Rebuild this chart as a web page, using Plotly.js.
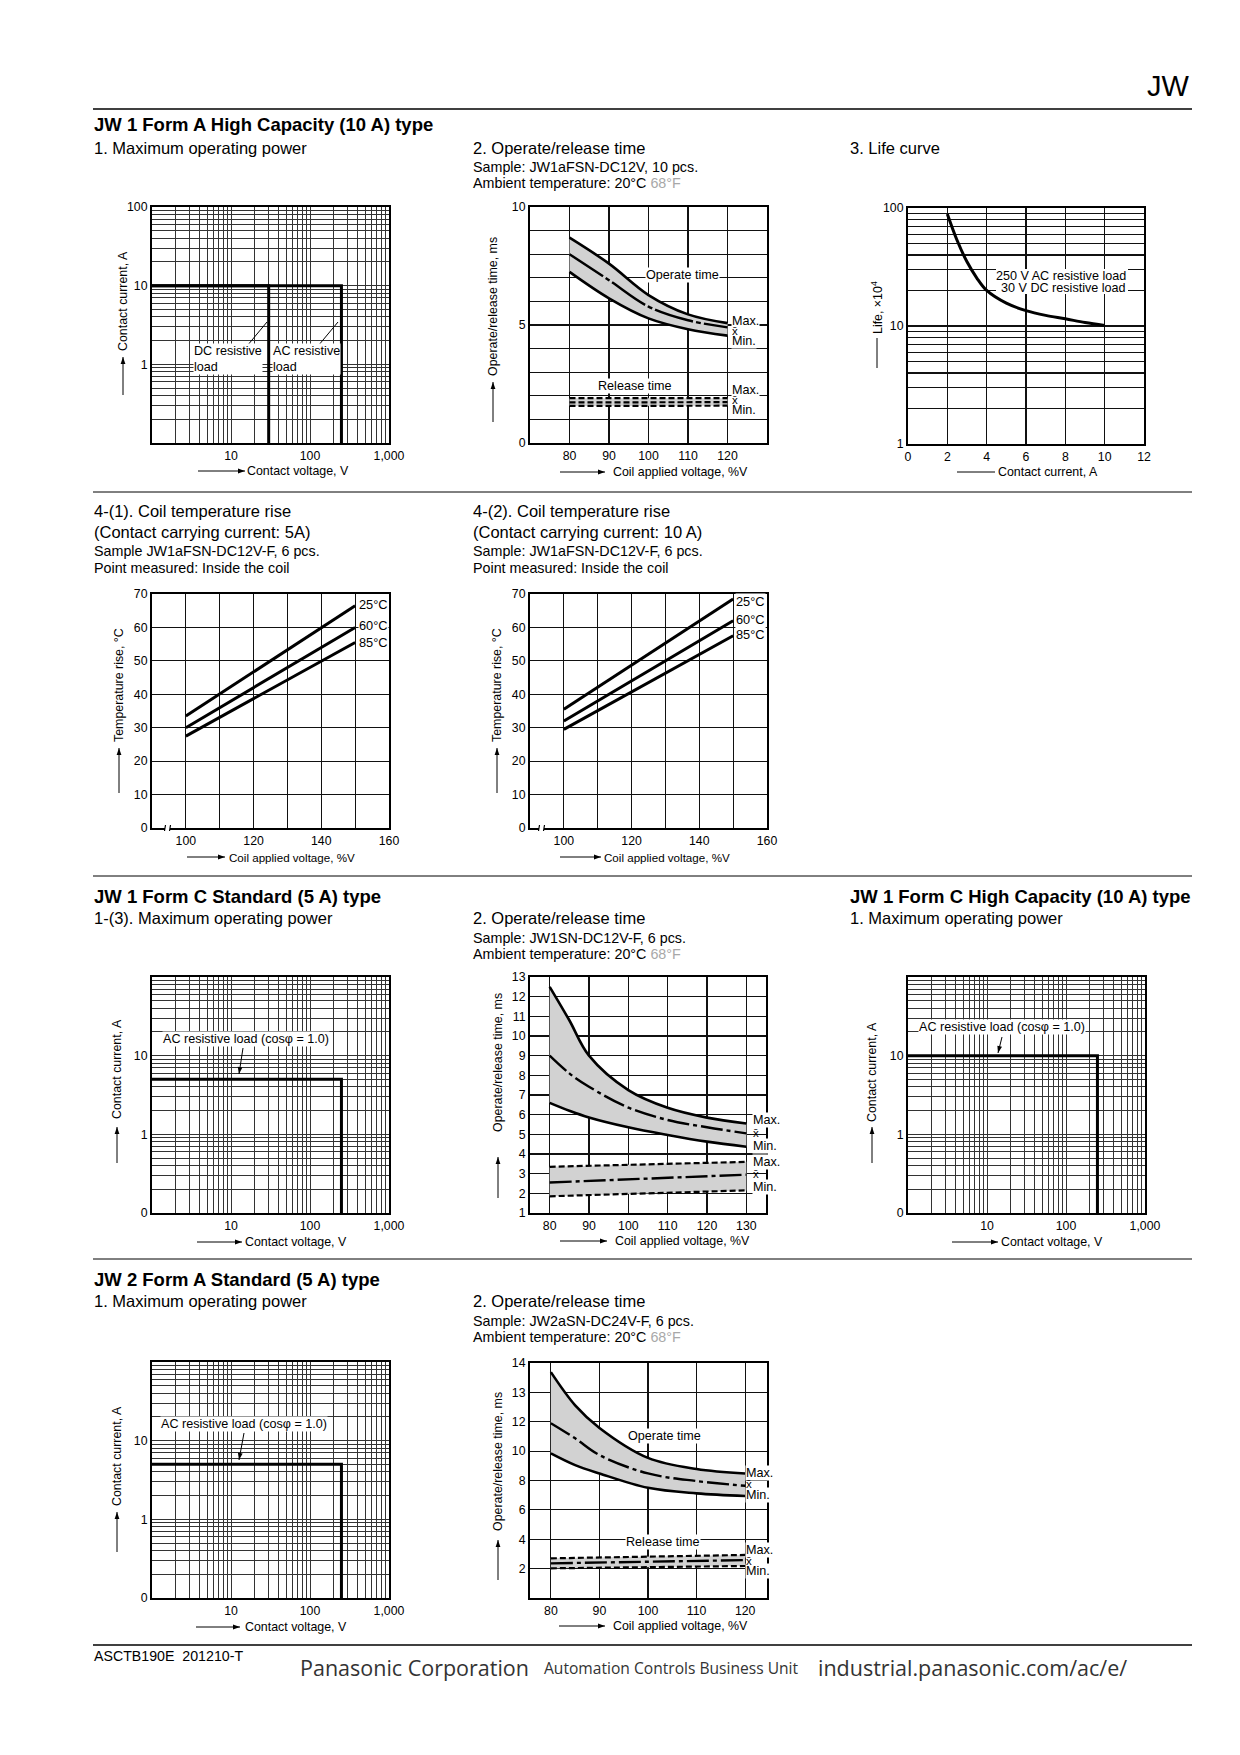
<!DOCTYPE html>
<html><head><meta charset="utf-8">
<script src="https://cdn.plot.ly/plotly-3.0.1.min.js"></script>
<style>html,body{margin:0;padding:0;background:#fff}</style>
</head><body><div id="page" style="width:1240px;height:1755px"></div>
<script>
// ===== DATA =====
// JW 1 Form A High Capacity (10 A): 1. Maximum operating power
const a1DcVoltage = [1, 30, 30];
const a1DcCurrent = [10, 10, 0.1];
const a1AcVoltage = [1, 250, 250];
const a1AcCurrent = [10, 10, 0.1];
// 2. Operate/release time (JW1aFSN-DC12V)
const a2Voltage = [80, 90, 100, 110, 120];
const a2OperateMax = [8.7, 7.6, 6.27, 5.45, 5.08];
const a2OperateMean = [8.0, 6.9, 5.78, 5.2, 4.9];
const a2OperateMin = [7.25, 6.13, 5.28, 4.82, 4.55];
const a2RelVoltage = [80, 120];
const a2ReleaseMax = [1.9, 1.9];
const a2ReleaseMean = [1.72, 1.73];
const a2ReleaseMin = [1.57, 1.58];
// 3. Life curve
const a3Current = [2, 2.5, 3, 3.5, 4, 5, 6, 7, 8, 9, 10];
const a3Life = [89, 53, 35, 25.5, 20, 15.6, 13.5, 12.3, 11.5, 10.7, 10.1];
// 4-(1) Coil temperature rise, 5 A
const tempVoltage = [100, 150];
const t1Rise25 = [33.5, 66.5];
const t1Rise60 = [30, 60];
const t1Rise85 = [27.5, 55.5];
// 4-(2) Coil temperature rise, 10 A
const t2Rise25 = [35.5, 68.5];
const t2Rise60 = [32, 62];
const t2Rise85 = [29.5, 57.5];
// JW 1 Form C Standard (5 A): max operating power
const c1Voltage = [1, 250, 250];
const c1Current = [5, 5, 0.1];
// JW 1 Form C Standard: operate/release time (JW1SN-DC12V-F)
const c2Voltage = [80, 85, 90, 100, 110, 120, 130];
const c2OperateMax = [12.5, 10.8, 9.0, 7.25, 6.35, 5.85, 5.55];
const c2OperateMean = [9.0, 8.1, 7.42, 6.36, 5.73, 5.36, 5.05];
const c2OperateMin = [6.6, 6.2, 5.86, 5.36, 4.97, 4.63, 4.37];
const c2RelVoltage = [80, 130];
const c2ReleaseMax = [3.35, 3.6];
const c2ReleaseMean = [2.55, 2.95];
const c2ReleaseMin = [1.85, 2.15];
// JW 1 Form C High Capacity (10 A): max operating power
const c3Voltage = [1, 250, 250];
const c3Current = [10, 10, 0.1];
// JW 2 Form A Standard (5 A): max operating power
const d1Voltage = [1, 250, 250];
const d1Current = [5, 5, 0.1];
// JW 2 Form A: operate/release time (JW2aSN-DC24V-F), values as labelled on the broken axis
const d2Voltage = [80, 85, 90, 100, 110, 120];
const d2OperateMax = [13.69, 12.56, 11.58, 9.54, 8.78, 8.48];
const d2OperateMean = [11.9, 10.87, 9.73, 8.48, 7.96, 7.64];
const d2OperateMin = [9.85, 9.05, 8.48, 7.5, 7.12, 6.94];
const d2RelVoltage = [80, 120];
const d2ReleaseMax = [2.7, 2.93];
const d2ReleaseMean = [2.36, 2.58];
const d2ReleaseMin = [2.02, 2.18];
// tick labels
const logXLabels = {'10': '10', '100': '100', '1000': '1,000'};
const d2YLabels = ['', '2', '4', '6', '8', '10', '12', '13', '14'];

// ===== LAYOUT HELPERS =====
const W = 1240, H = 1755;
const FONT = 'Liberation Sans, Arial, Helvetica, sans-serif';
const FOOT = 'Open Sans, Noto Sans, sans-serif';
const X = p => p / W, Y = p => 1 - p / H;
const data = [];
const layout = {
  width: W, height: H, margin: {l: 0, r: 0, t: 0, b: 0},
  paper_bgcolor: '#fff', plot_bgcolor: '#fff', showlegend: false,
  font: {family: FONT, color: '#000', size: 12},
  annotations: [], shapes: []
};
const axisBase = {
  showline: true, mirror: true, linecolor: '#000', linewidth: 2,
  showgrid: true, gridcolor: '#111', gridwidth: 1.2, zeroline: false,
  ticks: '', tickfont: {size: 12.3, family: FONT, color: '#000'},
  fixedrange: true, tickmode: 'array'
};
const S_BOLD = 18.5, S_SEC = 16.5, S_SMALL = 14.3, S_AX = 12.4, S_LBL = 12.6;
let nPlot = 0;
function addPlot(l, r, t, b, xa, ya) {
  nPlot++;
  const s = nPlot === 1 ? '' : String(nPlot);
  layout['xaxis' + s] = Object.assign({}, axisBase, {domain: [X(l), X(r)], anchor: 'y' + s}, xa);
  layout['yaxis' + s] = Object.assign({}, axisBase, {domain: [Y(b), Y(t)], anchor: 'x' + s}, ya);
  return {x: 'x' + s, y: 'y' + s};
}
function logVals(lo, hi) {
  const v = [];
  for (let e = lo; e < hi; e++) for (let m = 1; m < 10; m++) v.push(+(m * Math.pow(10, e)).toPrecision(3));
  v.push(Math.pow(10, hi));
  return v;
}
function labelled(vals, map) { return vals.map(v => map[String(v)] !== undefined ? map[String(v)] : ''); }
function trace(ax, x, y, o) {
  data.push(Object.assign({type: 'scatter', mode: 'lines', x: x, y: y, xaxis: ax.x, yaxis: ax.y,
    hoverinfo: 'skip', line: {color: '#000', width: 2.6}}, o || {}));
}
function txt(x, y, text, size, o) {
  o = o || {};
  layout.annotations.push(Object.assign({xref: 'paper', yref: 'paper', x: X(x), y: Y(y), text: text,
    showarrow: false, xanchor: 'left', yanchor: 'middle', borderpad: 0,
    font: {family: o.family || FONT, size: size || 12, color: o.color || '#000'}}, o.extra || {}));
}
function seg(x0, y0, x1, y1, w, c) {
  layout.shapes.push({type: 'line', xref: 'paper', yref: 'paper', x0: X(x0), x1: X(x1), y0: Y(y0), y1: Y(y1),
    line: {color: c || '#000', width: w}});
}
function whiteBox(x0, y0, x1, y1) {
  layout.shapes.push({type: 'rect', layer: 'above', xref: 'paper', yref: 'paper', x0: X(x0), x1: X(x1), y0: Y(y1), y1: Y(y0),
    fillcolor: '#fff', line: {width: 0}});
}
function arrow(hx, hy, tx, ty, head) {
  seg(tx, ty, hx, hy, 1);
  if (head === false) return;
  const dx = hx - tx, dy = hy - ty, L = Math.hypot(dx, dy), ux = dx / L, uy = dy / L;
  const len = 7, half = 2.4;
  const bx = hx - ux * len, by = hy - uy * len;
  const p1 = [bx - uy * half, by + ux * half], p2 = [bx + uy * half, by - ux * half];
  layout.shapes.push({type: 'path', xref: 'paper', yref: 'paper',
    path: 'M ' + X(hx) + ' ' + Y(hy) + ' L ' + X(p1[0]) + ' ' + Y(p1[1]) + ' L ' + X(p2[0]) + ' ' + Y(p2[1]) + ' Z',
    fillcolor: '#000', line: {width: 0}});
}
function hline(y, x0, x1, w) { seg(x0, y, x1, y, w); }
function breakMark(x, y) {
  layout.shapes.push({type: 'rect', xref: 'paper', yref: 'paper', x0: X(x), x1: X(x + 5), y0: Y(y + 2), y1: Y(y - 2),
    fillcolor: '#fff', line: {width: 0}});
  seg(x - 0.5, y + 3, x + 0.5, y - 3, 1.2);
  seg(x + 4.5, y + 3, x + 5.5, y - 3, 1.2);
}
function yTitle(cx, cy, text, headY, tailY, head) {
  txt(cx, cy, text, S_AX, {extra: {textangle: -90, xanchor: 'center'}});
  arrow(cx, headY, cx, tailY, head);
}
function xTitle(cx, cy, text, tailX, headX, head, size) {
  txt(cx, cy, text, size || S_AX, {extra: {xanchor: 'center'}});
  arrow(headX, cy, tailX, cy, head);
}
const brokenScale = v => v <= 12 ? v / 2 : 6 + (v - 12);
const GREY = '#d2d2d2';
const MEAN_DASH = '22px,4px,4px,4px';
const REL_DASH = '6px,3px';
const WHITE = {bgcolor: '#fff'};
function logPowerAxes(l, r, t, b, yMap) {
  const xv = logVals(0, 3), yv = logVals(-1, 2);
  return addPlot(l, r, t, b,
    {type: 'log', range: [0, 3], tickvals: xv, ticktext: labelled(xv, logXLabels), gridcolor: '#333', gridwidth: 1},
    {type: 'log', range: [-1, 2], tickvals: yv, ticktext: labelled(yv, yMap), gridcolor: '#333', gridwidth: 1});
}
function statLabels(x, yMax, yMean, yMin) {
  txt(x, yMax, 'Max.', S_LBL, {extra: WHITE});
  txt(x, yMin, 'Min.', S_LBL, {extra: WHITE});
  txt(x, yMean, 'x\u0304', 11.5);
}

// ===== PAGE HEADER / RULES =====
txt(1191, 86, 'JW', 29, {extra: {xanchor: 'right'}});
hline(109, 93, 1192, 1.5);
hline(492, 93, 1192, 1);
hline(876, 93, 1192, 1);
hline(1259, 93, 1192, 1);
hline(1645, 93, 1192, 1.5);

// ===== ROW 1 =====
txt(93, 124, '<b>JW 1 Form A High Capacity (10 A) type</b>', S_BOLD);
txt(93, 147.5, '1. Maximum operating power', S_SEC);
txt(472, 147.5, '2. Operate/release time', S_SEC);
txt(472, 167, 'Sample: JW1aFSN-DC12V, 10 pcs.', S_SMALL);
txt(472, 183, 'Ambient temperature: 20°C <span style="color:#a8a8a8">68°F</span>', S_SMALL);
txt(849, 147.5, '3. Life curve', S_SEC);

// Chart A1
const pA1 = logPowerAxes(152, 389, 207, 443, {'1': '1', '10': '10', '100': '100'});
trace(pA1, a1AcVoltage, a1AcCurrent, {line: {color: '#000', width: 3}});
trace(pA1, a1DcVoltage, a1DcCurrent, {line: {color: '#000', width: 3}});
txt(193, 359, 'DC resistive<br>load', S_LBL, {extra: {bgcolor: '#fff', align: 'left'}});
txt(272, 359, 'AC resistive<br>load', S_LBL, {extra: {bgcolor: '#fff', align: 'left'}});
seg(247, 346, 267, 322, 1);
seg(318, 346, 338, 322, 1);
yTitle(123, 301, 'Contact current, A', 357, 395);
xTitle(298, 471, 'Contact voltage, V', 198, 245);

// Chart A2
const pA2 = addPlot(530, 767, 207, 443,
  {range: [70, 130], tickvals: [80, 90, 100, 110, 120]},
  {range: [0, 10], tickvals: [0,1,2,3,4,5,6,7,8,9,10], ticktext: ['0','','','','','5','','','','','10']});
trace(pA2, a2Voltage, a2OperateMin, {line: {color: '#000', width: 2.6, shape: 'spline'}});
trace(pA2, a2Voltage, a2OperateMax, {fill: 'tonexty', fillcolor: GREY, line: {color: '#000', width: 2.6, shape: 'spline'}});
trace(pA2, a2Voltage, a2OperateMean, {line: {color: '#000', width: 2.4, shape: 'spline', dash: '40px,3px,5px,3px'}});
trace(pA2, a2RelVoltage, a2ReleaseMin, {line: {color: '#000', width: 2.2, dash: REL_DASH}});
trace(pA2, a2RelVoltage, a2ReleaseMax, {fill: 'tonexty', fillcolor: GREY, line: {color: '#000', width: 2.2, dash: REL_DASH}});
trace(pA2, a2RelVoltage, a2ReleaseMean, {line: {color: '#000', width: 2.2, dash: REL_DASH}});
txt(682, 275, 'Operate time', S_LBL, {extra: {xanchor: 'center', bgcolor: '#fff'}});
txt(635, 386, 'Release time', S_LBL, {extra: {xanchor: 'center', bgcolor: '#fff'}});
statLabels(731, 321, 331, 341);
statLabels(731, 390, 400, 410);
yTitle(493, 307, 'Operate/release time, ms', 382, 422);
xTitle(680, 472, 'Coil applied voltage, %V', 560, 605);

// Chart A3 life
const lifeY = logVals(0, 2);
const pA3 = addPlot(908, 1144, 208, 444,
  {range: [0, 12], tickvals: [0, 2, 4, 6, 8, 10, 12]},
  {type: 'log', range: [0, 2], tickvals: lifeY, ticktext: labelled(lifeY, {'1': '1', '10': '10', '100': '100'})});
trace(pA3, a3Current, a3Life, {line: {color: '#000', width: 3, shape: 'spline'}});
whiteBox(996, 269, 1128, 294);
txt(1127, 276, '250 V AC resistive load', 12.6, {extra: {xanchor: 'right'}});
txt(1127, 288, '30 V DC resistive load', 12.6, {extra: {xanchor: 'right'}});
yTitle(877, 308, 'Life, ×10<sup>4</sup>', 338, 368, false);
xTitle(1048, 472, 'Contact current, A', 957, 995, false);

// ===== ROW 2 =====
txt(93, 511, '4-(1). Coil temperature rise', S_SEC);
txt(93, 532, '(Contact carrying current: 5A)', S_SEC);
txt(93, 551, 'Sample JW1aFSN-DC12V-F, 6 pcs.', S_SMALL);
txt(93, 568, 'Point measured: Inside the coil', S_SMALL);
txt(472, 511, '4-(2). Coil temperature rise', S_SEC);
txt(472, 532, '(Contact carrying current: 10 A)', S_SEC);
txt(472, 551, 'Sample: JW1aFSN-DC12V-F, 6 pcs.', S_SMALL);
txt(472, 568, 'Point measured: Inside the coil', S_SMALL);

function tempAxes(l, r) {
  return addPlot(l, r, 594, 828,
    {range: [90, 160], tickvals: [100, 110, 120, 130, 140, 150, 160], ticktext: ['100', '', '120', '', '140', '', '160']},
    {range: [0, 70], tickvals: [0, 10, 20, 30, 40, 50, 60, 70]});
}
const pT1 = tempAxes(152, 389);
trace(pT1, tempVoltage, t1Rise25, {line: {color: '#000', width: 3}});
trace(pT1, tempVoltage, t1Rise60, {line: {color: '#000', width: 3}});
trace(pT1, tempVoltage, t1Rise85, {line: {color: '#000', width: 3}});
txt(358, 605, '25°C', 12.8, {extra: WHITE});
txt(358, 626, '60°C', 12.8, {extra: WHITE});
txt(358, 642, '85°C', 12.8, {extra: WHITE});
breakMark(165, 828);
yTitle(119, 685, 'Temperature rise, °C', 748, 793);
xTitle(292, 857, 'Coil applied voltage, %V', 187, 225, true, 11.6);

const pT2 = tempAxes(530, 767);
trace(pT2, tempVoltage, t2Rise25, {line: {color: '#000', width: 3}});
trace(pT2, tempVoltage, t2Rise60, {line: {color: '#000', width: 3}});
trace(pT2, tempVoltage, t2Rise85, {line: {color: '#000', width: 3}});
txt(735, 601, '25°C', 12.8, {extra: WHITE});
txt(735, 619, '60°C', 12.8, {extra: WHITE});
txt(735, 634, '85°C', 12.8, {extra: WHITE});
breakMark(539, 828);
yTitle(497, 685, 'Temperature rise, °C', 748, 793);
xTitle(667, 857, 'Coil applied voltage, %V', 560, 601, true, 11.6);

// ===== ROW 3 =====
txt(93, 896, '<b>JW 1 Form C Standard (5 A) type</b>', S_BOLD);
txt(93, 918, '1-(3). Maximum operating power', S_SEC);
txt(472, 918, '2. Operate/release time', S_SEC);
txt(472, 938, 'Sample: JW1SN-DC12V-F, 6 pcs.', S_SMALL);
txt(472, 954, 'Ambient temperature: 20°C <span style="color:#a8a8a8">68°F</span>', S_SMALL);
txt(849, 896, '<b>JW 1 Form C High Capacity (10 A) type</b>', S_BOLD);
txt(849, 918, '1. Maximum operating power', S_SEC);

const powerYMap = {'0.1': '0', '1': '1', '10': '10'};
const pC1 = logPowerAxes(152, 389, 977, 1213, powerYMap);
trace(pC1, c1Voltage, c1Current, {line: {color: '#000', width: 3}});
txt(162, 1039, 'AC resistive load (cosφ = 1.0)', S_LBL, {extra: WHITE});
arrow(239, 1074, 243, 1048);
yTitle(117, 1069, 'Contact current, A', 1127, 1163);
xTitle(296, 1242, 'Contact voltage, V', 197, 242);

const pC2 = addPlot(530, 766, 977, 1213,
  {range: [75, 135], tickvals: [80, 90, 100, 110, 120, 130]},
  {range: [1, 13], tickvals: [1,2,3,4,5,6,7,8,9,10,11,12,13]});
trace(pC2, c2Voltage, c2OperateMin, {line: {color: '#000', width: 2.6, shape: 'spline'}});
trace(pC2, c2Voltage, c2OperateMax, {fill: 'tonexty', fillcolor: GREY, line: {color: '#000', width: 2.6, shape: 'spline'}});
trace(pC2, c2Voltage, c2OperateMean, {line: {color: '#000', width: 2.4, shape: 'spline', dash: MEAN_DASH}});
trace(pC2, c2RelVoltage, c2ReleaseMin, {line: {color: '#000', width: 2.2, dash: REL_DASH}});
trace(pC2, c2RelVoltage, c2ReleaseMax, {fill: 'tonexty', fillcolor: GREY, line: {color: '#000', width: 2.2, dash: REL_DASH}});
trace(pC2, c2RelVoltage, c2ReleaseMean, {line: {color: '#000', width: 2.4, dash: MEAN_DASH}});
statLabels(752, 1120, 1133, 1146);
statLabels(752, 1162, 1174, 1187);
yTitle(498, 1063, 'Operate/release time, ms', 1157, 1198);
xTitle(682, 1241, 'Coil applied voltage, %V', 560, 607);

const pC3 = logPowerAxes(908, 1145, 977, 1213, powerYMap);
trace(pC3, c3Voltage, c3Current, {line: {color: '#000', width: 3}});
txt(918, 1027, 'AC resistive load (cosφ = 1.0)', S_LBL, {extra: WHITE});
arrow(998, 1053, 1002, 1037);
yTitle(872, 1072, 'Contact current, A', 1127, 1163);
xTitle(1052, 1242, 'Contact voltage, V', 952, 998);

// ===== ROW 4 =====
txt(93, 1279, '<b>JW 2 Form A Standard (5 A) type</b>', S_BOLD);
txt(93, 1301, '1. Maximum operating power', S_SEC);
txt(472, 1301, '2. Operate/release time', S_SEC);
txt(472, 1321, 'Sample: JW2aSN-DC24V-F, 6 pcs.', S_SMALL);
txt(472, 1337, 'Ambient temperature: 20°C <span style="color:#a8a8a8">68°F</span>', S_SMALL);

const pD1 = logPowerAxes(152, 389, 1362, 1598, powerYMap);
trace(pD1, d1Voltage, d1Current, {line: {color: '#000', width: 3}});
txt(160, 1424, 'AC resistive load (cosφ = 1.0)', S_LBL, {extra: WHITE});
arrow(239, 1460, 244, 1433);
yTitle(117, 1456, 'Contact current, A', 1512, 1552);
xTitle(296, 1627, 'Contact voltage, V', 196, 240);

const pD2 = addPlot(530, 767, 1363, 1598,
  {range: [75.7, 124.5], tickvals: [80, 90, 100, 110, 120]},
  {range: [0, 8], tickvals: [0,1,2,3,4,5,6,7,8], ticktext: d2YLabels});
trace(pD2, d2Voltage, d2OperateMin.map(brokenScale), {line: {color: '#000', width: 2.6, shape: 'spline'}});
trace(pD2, d2Voltage, d2OperateMax.map(brokenScale), {fill: 'tonexty', fillcolor: GREY, line: {color: '#000', width: 2.6, shape: 'spline'}});
trace(pD2, d2Voltage, d2OperateMean.map(brokenScale), {line: {color: '#000', width: 2.4, shape: 'spline', dash: MEAN_DASH}});
trace(pD2, d2RelVoltage, d2ReleaseMin.map(brokenScale), {line: {color: '#000', width: 2.2, dash: REL_DASH}});
trace(pD2, d2RelVoltage, d2ReleaseMax.map(brokenScale), {fill: 'tonexty', fillcolor: GREY, line: {color: '#000', width: 2.2, dash: REL_DASH}});
trace(pD2, d2RelVoltage, d2ReleaseMean.map(brokenScale), {line: {color: '#000', width: 2.4, dash: MEAN_DASH}});
txt(664, 1436, 'Operate time', S_LBL, {extra: {xanchor: 'center', bgcolor: '#fff'}});
txt(663, 1542, 'Release time', S_LBL, {extra: {xanchor: 'center', bgcolor: '#fff'}});
statLabels(745, 1473, 1484, 1495);
statLabels(745, 1550, 1561, 1571);
yTitle(498, 1462, 'Operate/release time, ms', 1540, 1580);
xTitle(680, 1626, 'Coil applied voltage, %V', 559, 605);

// ===== FOOTER =====
txt(93, 1656, 'ASCTB190E  201210-T', 14.2);
txt(299, 1667, 'Panasonic Corporation', 21.5, {family: FOOT, color: '#333'});
txt(543, 1668, 'Automation Controls Business Unit', 15.6, {family: FOOT, color: '#333'});
txt(817, 1667, 'industrial.panasonic.com/ac/e/', 21.5, {family: FOOT, color: '#333'});

Plotly.newPlot('page', data, layout, {staticPlot: true, displayModeBar: false});
</script></body></html>
